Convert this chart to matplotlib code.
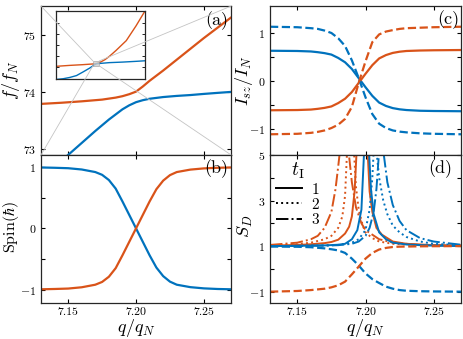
import numpy as np
import matplotlib.pyplot as plt
from matplotlib import rcParams
from matplotlib.patches import Rectangle, ConnectionPatch
from matplotlib.lines import Line2D
from matplotlib.ticker import FormatStrFormatter

config = {
    "font.family": "serif",
    "font.serif": ["cmr10"],
    "mathtext.fontset": "cm",
    "axes.formatter.use_mathtext": True,
    "font.size": 8.5,
    "axes.linewidth": 0.9,
    "axes.edgecolor": "#262626",
    "xtick.direction": "in",
    "ytick.direction": "in",
    "xtick.top": True,
    "ytick.right": True,
    "xtick.major.size": 3,
    "ytick.major.size": 3,
}
rcParams.update(config)

BLUE = '#0072BD'
ORANGE = '#D95319'

# (a) eigenfrequencies
q_a_orange = [7.13, 7.145, 7.16, 7.175, 7.185, 7.19, 7.195, 7.2, 7.205, 7.21,
              7.22, 7.23, 7.24, 7.25, 7.26, 7.27]
f_orange = [73.785, 73.805, 73.83, 73.86, 73.895, 73.92, 73.955, 74.0, 74.09, 74.19,
            74.37, 74.56, 74.75, 74.94, 75.12, 75.30]
q_a_blue = [7.145, 7.15, 7.16, 7.17, 7.18, 7.19, 7.195, 7.2, 7.205, 7.21,
            7.22, 7.23, 7.24, 7.25, 7.26, 7.27]
f_blue = [72.79, 72.89, 73.10, 73.31, 73.51, 73.69, 73.76, 73.815, 73.85, 73.875,
          73.905, 73.925, 73.94, 73.96, 73.978, 73.995]

# inset (zoomed out)
q_in_orange = [6.3, 6.6, 6.9, 7.2, 7.3, 7.4, 7.5, 7.65, 7.88, 8.1, 8.3]
f_in_orange = [72.6, 73.1, 73.5, 74.0, 74.9, 76.2, 78.0, 81.2, 86.5, 94.5, 102.5]
q_in_blue = [6.3, 6.46, 6.61, 6.76, 6.91, 7.06, 7.2, 7.5, 7.8, 8.1, 8.3]
f_in_blue = [65.5, 65.9, 66.6, 67.6, 69.6, 71.7, 74.0, 74.6, 74.9, 75.3, 75.6]

# (b) spin
q_b = [7.13, 7.14, 7.15, 7.16, 7.17, 7.175, 7.18, 7.185, 7.19, 7.195, 7.2,
       7.205, 7.21, 7.215, 7.22, 7.225, 7.23, 7.24, 7.25, 7.26, 7.27]
spin_blue = [0.995, 0.99, 0.983, 0.962, 0.92, 0.875, 0.79, 0.65, 0.44, 0.22, 0.0,
             -0.22, -0.44, -0.64, -0.78, -0.87, -0.92, -0.96, -0.98, -0.99, -0.995]
spin_orange = [-0.995, -0.99, -0.983, -0.962, -0.92, -0.875, -0.79, -0.65, -0.44, -0.22, 0.0,
               0.22, 0.44, 0.64, 0.78, 0.87, 0.92, 0.96, 0.98, 0.99, 0.995]

# (c) I_sz / I_N
q_c = [7.13, 7.15, 7.16, 7.165, 7.17, 7.175, 7.18, 7.185, 7.19, 7.195, 7.2,
       7.205, 7.21, 7.215, 7.22, 7.225, 7.23, 7.24, 7.25, 7.27]
isz_blue = [0.62, 0.615, 0.605, 0.59, 0.57, 0.54, 0.47, 0.38, 0.24, 0.05, -0.14,
            -0.32, -0.46, -0.53, -0.575, -0.6, -0.615, -0.63, -0.635, -0.64]
isz_orange = [-0.62, -0.615, -0.605, -0.59, -0.57, -0.54, -0.47, -0.38, -0.24, -0.05, 0.14,
              0.32, 0.46, 0.53, 0.575, 0.6, 0.615, 0.625, 0.63, 0.635]
isz_blue_d = [1.12, 1.11, 1.09, 1.075, 1.04, 0.99, 0.88, 0.72, 0.42, 0.05, -0.35,
              -0.7, -0.9, -0.99, -1.04, -1.065, -1.08, -1.1, -1.11, -1.12]
isz_orange_d = [-1.12, -1.11, -1.09, -1.07, -1.04, -0.99, -0.92, -0.8, -0.55, -0.05, 0.4,
                0.8, 0.96, 1.02, 1.05, 1.075, 1.09, 1.1, 1.11, 1.12]

# (d) S_D
q_d = [7.13, 7.15, 7.16, 7.17, 7.175, 7.18, 7.185, 7.19, 7.195, 7.2,
       7.205, 7.21, 7.215, 7.22, 7.225, 7.23, 7.24, 7.25, 7.27]
sd_blue_d = [0.98, 0.97, 0.95, 0.9, 0.86, 0.81, 0.7, 0.45, 0.15, -0.2,
             -0.45, -0.62, -0.78, -0.87, -0.93, -0.96, -0.98, -0.99, -1.0]
sd_orange_d = [-1.0, -0.97, -0.93, -0.87, -0.81, -0.72, -0.56, -0.24, 0.1, 0.45,
               0.7, 0.85, 0.92, 0.96, 0.975, 0.98, 0.99, 0.995, 1.0]

t_labels = ['1', '2', '3']
# orange peaks, t_I = 1, 2, 3
q_o1 = [7.13, 7.15, 7.16, 7.17, 7.175, 7.18, 7.185, 7.188, 7.19, 7.192, 7.1935, 7.195,
        7.1975, 7.2, 7.2015, 7.203, 7.205, 7.208, 7.212, 7.22, 7.23, 7.25, 7.27]
sd_o1 = [1.02, 1.05, 1.08, 1.13, 1.18, 1.28, 1.55, 1.85, 2.3, 3.4, 5.2, 6.5,
         7.0, 6.5, 5.2, 3.4, 2.5, 1.8, 1.5, 1.2, 1.1, 1.04, 1.02]
q_o2 = [7.13, 7.15, 7.16, 7.17, 7.175, 7.18, 7.183, 7.185, 7.1865, 7.189, 7.1915, 7.193,
        7.195, 7.198, 7.2, 7.205, 7.21, 7.22, 7.24, 7.27]
sd_o2 = [1.03, 1.08, 1.15, 1.3, 1.45, 1.8, 2.3, 3.2, 5.2, 6.5, 5.2, 3.6,
         2.6, 1.9, 1.6, 1.35, 1.2, 1.1, 1.04, 1.02]
q_o3 = [7.13, 7.15, 7.16, 7.165, 7.17, 7.175, 7.178, 7.18, 7.1815, 7.1845, 7.1875, 7.19,
        7.193, 7.197, 7.2, 7.21, 7.22, 7.24, 7.27]
sd_o3 = [1.05, 1.15, 1.3, 1.45, 1.8, 2.5, 3.5, 4.5, 5.3, 6.5, 5.2, 3.8,
         2.7, 2.0, 1.7, 1.3, 1.15, 1.05, 1.02]
# blue peaks, t_I = 1, 2, 3
q_b1 = [7.13, 7.15, 7.17, 7.18, 7.185, 7.19, 7.194, 7.197, 7.199, 7.2005, 7.2025,
        7.204, 7.206, 7.21, 7.215, 7.22, 7.23, 7.25, 7.27]
sd_b1 = [1.0, 1.01, 1.03, 1.06, 1.1, 1.3, 1.7, 2.6, 5.2, 6.5, 5.2,
         3.5, 2.4, 1.6, 1.3, 1.15, 1.07, 1.02, 1.0]
q_b2 = [7.13, 7.15, 7.17, 7.18, 7.19, 7.195, 7.2, 7.203, 7.205, 7.2065, 7.208,
        7.21, 7.213, 7.216, 7.22, 7.225, 7.23, 7.24, 7.25, 7.27]
sd_b2 = [1.0, 1.01, 1.03, 1.05, 1.15, 1.3, 1.7, 2.6, 4.0, 5.8, 5.2,
         4.0, 3.0, 2.4, 1.9, 1.6, 1.4, 1.2, 1.1, 1.03]
q_b3 = [7.13, 7.15, 7.17, 7.18, 7.19, 7.195, 7.2, 7.203, 7.206, 7.208, 7.21,
        7.2115, 7.213, 7.216, 7.22, 7.225, 7.23, 7.24, 7.25, 7.27]
sd_b3 = [1.0, 1.01, 1.02, 1.04, 1.1, 1.2, 1.45, 1.8, 2.5, 3.5, 5.2,
         6.0, 5.2, 3.8, 2.8, 2.1, 1.7, 1.35, 1.2, 1.06]

x_ticks = [7.15, 7.20, 7.25]
x_lim = (7.13, 7.27)

fig = plt.figure(figsize=(4.63, 3.39), dpi=100)
ax_a = fig.add_axes([0.0886, 0.543, 0.4104, 0.439])
ax_b = fig.add_axes([0.0886, 0.106, 0.4104, 0.437])
ax_c = fig.add_axes([0.5832, 0.543, 0.4125, 0.439])
ax_d = fig.add_axes([0.5832, 0.106, 0.4125, 0.437])

for ax in (ax_a, ax_b, ax_c, ax_d):
    ax.set_xlim(x_lim)
    ax.set_xticks(x_ticks)
    ax.xaxis.set_major_formatter(FormatStrFormatter('%.2f'))
for ax in (ax_a, ax_c):
    ax.tick_params(labelbottom=False)

lw = 1.6
# (a)
ax_a.plot(q_a_orange, f_orange, color=ORANGE, lw=lw)
ax_a.plot(q_a_blue, f_blue, color=BLUE, lw=lw)
ax_a.set_ylim(72.89, 75.5)
ax_a.set_yticks([73, 74, 75])
ax_a.set_ylabel(r'$f/f_N$', fontsize=13)
ax_a.yaxis.set_label_coords(-0.10, 0.5)
ax_a.text(0.985, 0.9, '(a)', transform=ax_a.transAxes, ha='right', va='center', fontsize=13)

ax_in = ax_a.inset_axes([0.079, 0.507, 0.468, 0.46])
ax_in.plot(q_in_orange, f_in_orange, color=ORANGE, lw=1.0)
ax_in.plot(q_in_blue, f_in_blue, color=BLUE, lw=1.0)
ax_in.set_xlim(6.3, 8.3)
ax_in.set_ylim(65.5, 102.5)
ax_in.set_xticks([])
ax_in.set_yticks([72, 78, 84, 90, 96])
ax_in.tick_params(labelleft=False, length=2, width=0.6)
ax_in.add_patch(Rectangle((x_lim[0], 72.89), x_lim[1] - x_lim[0], 75.5 - 72.89,
                          facecolor='#cccccc', edgecolor='#999999', lw=0.5, alpha=0.8, zorder=3))
for (xa, ya), (xb, yb) in [((x_lim[0], 75.5), (0, 1)), ((x_lim[1], 75.5), (1, 1)),
                           ((x_lim[0], 72.89), (0, 0)), ((x_lim[1], 72.89), (1, 0))]:
    con = ConnectionPatch(xyA=(xa, ya), coordsA=ax_in.transData,
                          xyB=(xb, yb), coordsB=ax_a.transAxes,
                          color='#c4c4c4', lw=0.6)
    fig.add_artist(con)

# (b)
ax_b.plot(q_b, spin_blue, color=BLUE, lw=lw)
ax_b.plot(q_b, spin_orange, color=ORANGE, lw=lw)
ax_b.set_ylim(-1.22, 1.2)
ax_b.set_yticks([-1, -0.5, 0, 0.5, 1])
ax_b.set_yticklabels([r'$-1$', '', r'$0$', '', r'$1$'])
ax_b.set_ylabel(r'Spin$(\hbar)$', fontsize=11.5)
ax_b.yaxis.set_label_coords(-0.105, 0.51)
ax_b.set_xlabel(r'$q/q_N$', fontsize=13)
ax_b.xaxis.set_label_coords(0.5, -0.095)
ax_b.text(0.985, 0.908, '(b)', transform=ax_b.transAxes, ha='right', va='center', fontsize=13)

# (c)
ax_c.plot(q_c, isz_blue, color=BLUE, lw=lw)
ax_c.plot(q_c, isz_orange, color=ORANGE, lw=lw)
ax_c.plot(q_c, isz_blue_d, color=BLUE, lw=lw, ls='--')
ax_c.plot(q_c, isz_orange_d, color=ORANGE, lw=lw, ls='--')
ax_c.set_ylim(-1.55, 1.55)
ax_c.set_yticks([-1, -0.5, 0, 0.5, 1])
ax_c.set_yticklabels([r'$-1$', '', r'$0$', '', r'$1$'])
ax_c.set_ylabel(r'$I_{sz}/I_N$', fontsize=13)
ax_c.yaxis.set_label_coords(-0.079, 0.5)
ax_c.text(0.99, 0.91, '(c)', transform=ax_c.transAxes, ha='right', va='center', fontsize=13)

# (d)
lw_d = 1.4
for q, s, ls in [(q_o1, sd_o1, '-'), (q_o2, sd_o2, ':'), (q_o3, sd_o3, '-.')]:
    ax_d.plot(q, s, color=ORANGE, lw=lw_d, ls=ls)
for q, s, ls in [(q_b1, sd_b1, '-'), (q_b2, sd_b2, ':'), (q_b3, sd_b3, '-.')]:
    ax_d.plot(q, s, color=BLUE, lw=lw_d, ls=ls)
ax_d.plot(q_d, sd_blue_d, color=BLUE, lw=lw, ls='--')
ax_d.plot(q_d, sd_orange_d, color=ORANGE, lw=lw, ls='--')
ax_d.set_ylim(-1.5, 5)
ax_d.set_yticks([-1, 0, 1, 2, 3, 4, 5])
ax_d.set_yticklabels([r'$-1$', '', r'$1$', '', r'$3$', '', r'$5$'])
ax_d.set_ylabel(r'$S_D$', fontsize=13)
ax_d.yaxis.set_label_coords(-0.079, 0.52)
ax_d.set_xlabel(r'$q/q_N$', fontsize=13)
ax_d.xaxis.set_label_coords(0.5, -0.095)
ax_d.text(0.956, 0.91, '(d)', transform=ax_d.transAxes, ha='right', va='center', fontsize=13)
handles = [Line2D([], [], color='k', lw=1.4, ls=ls) for ls in ['-', ':', '-.']]
ax_d.legend(handles, t_labels, title=r'$t_{\rm I}$', loc='upper left', frameon=False,
            fontsize=11, title_fontsize=14, handlelength=1.7, labelspacing=0.1,
            borderaxespad=0.0, handletextpad=0.6)

fig.savefig('out.png', dpi=100)
